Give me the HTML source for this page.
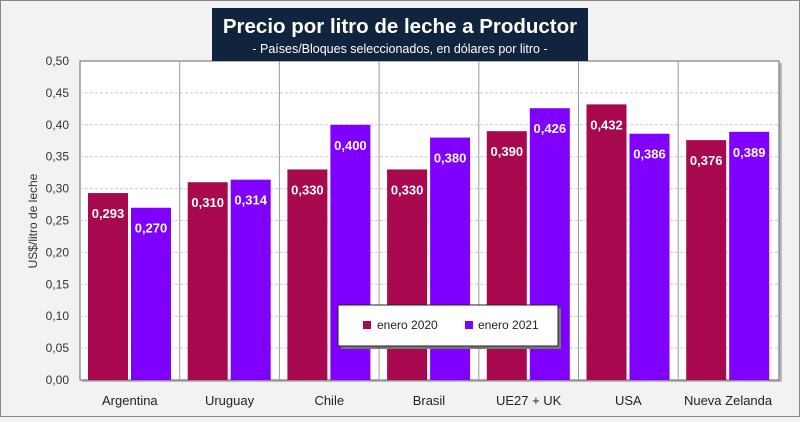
<!DOCTYPE html>
<html><head><meta charset="utf-8"><style>
body{margin:0;width:800px;height:417px;overflow:hidden;background:#f2f2f2;font-family:"Liberation Sans",sans-serif}
</style></head><body>
<svg width="800" height="417" id="c">
<rect x="0.5" y="0.5" width="799" height="416" fill="#f2f2f2" stroke="#888"/>
<rect x="82" y="63" width="700" height="319" fill="#bbb"/>
<rect x="80" y="61" width="699" height="319" fill="#fff" stroke="#666" stroke-width="1"/>
<g id="grid"></g><g id="bars"></g><g id="axis"></g>
<rect x="212" y="8" width="376" height="53" fill="#10243e"/>
<text x="400" y="33" text-anchor="middle" fill="#fff" font-size="20.5" font-weight="bold">Precio por litro de leche a Productor</text>
<text x="400" y="53" text-anchor="middle" fill="#fff" font-size="12.5">- Países/Bloques seleccionados, en dólares por litro -</text>
<text transform="translate(37,221) rotate(-90)" text-anchor="middle" font-size="12" fill="#333">US$/litro de leche</text>
<rect x="341" y="308" width="220" height="41" fill="#777"/>
<rect x="338" y="305" width="220" height="41" fill="#fff" stroke="#222"/>
<rect x="363" y="321" width="8" height="8" fill="#a8084e"/>
<text x="377" y="329" font-size="12" fill="#222">enero 2020</text>
<rect x="465" y="321" width="8" height="8" fill="#8000ff"/>
<text x="478" y="329" font-size="12" fill="#222">enero 2021</text>
</svg>
<script>
const categories=["Argentina","Uruguay","Chile","Brasil","UE27 + UK","USA","Nueva Zelanda"];
const s2020=[0.293,0.310,0.330,0.330,0.390,0.432,0.376];
const s2021=[0.270,0.314,0.400,0.380,0.426,0.386,0.389];
const yTicks=[0,0.05,0.1,0.15,0.2,0.25,0.3,0.35,0.4,0.45,0.5];
const NS="http://www.w3.org/2000/svg";
const L=80,T=61,B=380,W=99.7;
const y=v=>B-(v/0.5)*(B-T);
function mk(p,tag,a){const e=document.createElementNS(NS,tag);for(const k in a)e.setAttribute(k,a[k]);document.getElementById(p).appendChild(e);return e;}
yTicks.forEach(t=>{
  if(t>0&&t<0.5){const g=mk("grid","line",{x1:L,x2:L+699,y1:y(t),y2:y(t),stroke:"#ccc","stroke-dasharray":"3,2"});
  
  }
  const tx=mk("axis","text",{x:69,y:y(t)+4,"text-anchor":"end","font-size":"12",fill:"#333"});
  tx.textContent=t.toFixed(2).replace('.',',');
  
  
});
categories.forEach((c,i)=>{
  const x0=L+i*W;
  if(i>0){const s=mk("grid","line",{x1:x0,x2:x0,y1:T,y2:B,stroke:"#999"});
  
  }
  [[s2020[i],"#a8084e",x0+8],[s2021[i],"#8000ff",x0+51]].forEach(([v,col,bx],k)=>{
    const r=mk("bars","rect",{x:bx,y:y(v),width:40,height:B-y(v),fill:col});
    
    
    const lb=mk("bars","text",{x:bx+20,y:y(v)+25,"text-anchor":"middle","font-size":"13","font-weight":"bold",fill:"#fff"});
    lb.textContent=v.toFixed(3).replace('.',',');
    
    
  });
  const cl=mk("axis","text",{x:x0+W/2,y:405,"text-anchor":"middle","font-size":"13",fill:"#222"});
  cl.textContent=c;
  
  
});
</script>
</body></html>
